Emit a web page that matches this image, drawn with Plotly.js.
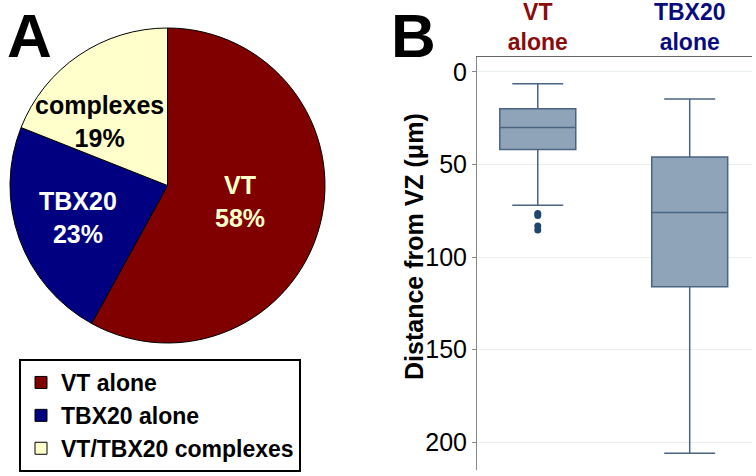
<!DOCTYPE html>
<html>
<head>
<meta charset="utf-8">
<script src="https://cdn.plot.ly/plotly-3.0.1.min.js"></script>
<style>html,body{margin:0;padding:0;background:#fff;}#chart{width:756px;height:476px;}</style>
</head>
<body>
<div id="chart"></div>
<script>
// ---- Data ----
const pieLabels = ['VT alone', 'TBX20 alone', 'VT/TBX20 complexes'];
const pieShort = ['VT', 'TBX20', 'complexes'];
const pieValues = [58, 23, 19];

const boxCategories = ['VT alone', 'TBX20 alone'];
const boxTickText = ['VT<br>alone', 'TBX20<br>alone'];
const boxLowerFence = [6.5, 14.7];
const boxQ1 = [20, 46];
const boxMedian = [30, 76];
const boxQ3 = [42, 116];
const boxUpperFence = [72, 206];
const vtOutliers = [76.5, 77.6, 83.2, 85.4];
const yTicks = [0, 50, 100, 150, 200];

// ---- Styles ----
const FONT = 'Liberation Sans, Arial, sans-serif';
const W = 756, H = 476;
const pieColors = ['#800000', '#000080', '#FFFFCC'];
const pieTextColors = ['#FFFFCC', '#FFFFFF', '#000000'];
const pieTextPos = [[240, 201], [78, 218], [99, 121]];
const catColors = ['#8B0A0A', '#0A0A80'];
const px = (x) => x / W, py = (y) => 1 - y / H;

const pieTrace = {
  type: 'pie',
  labels: pieLabels,
  values: pieValues,
  sort: false,
  direction: 'clockwise',
  rotation: 0,
  marker: {colors: pieColors, line: {color: '#000', width: 1}},
  textinfo: 'none',
  hoverinfo: 'label+percent',
  domain: {x: [px(7), px(328)], y: [py(343), py(28)]},
  showlegend: true
};

const boxTrace = {
  type: 'box',
  x: boxCategories,
  q1: boxQ1,
  median: boxMedian,
  q3: boxQ3,
  lowerfence: boxLowerFence,
  upperfence: boxUpperFence,
  width: 0.5,
  whiskerwidth: 0.67,
  boxpoints: false,
  fillcolor: 'rgb(143,164,185)',
  line: {color: 'rgb(74,100,130)', width: 1.5},
  xaxis: 'x2', yaxis: 'y2',
  showlegend: false
};

const outlierTrace = {
  type: 'scatter',
  mode: 'markers',
  x: vtOutliers.map(() => boxCategories[0]),
  y: vtOutliers,
  marker: {color: 'rgb(30,70,110)', size: 7},
  xaxis: 'x2', yaxis: 'y2',
  showlegend: false
};

const annotations = [
  {text: 'A', x: px(6), y: 1, xref: 'paper', yref: 'paper', xanchor: 'left', yanchor: 'top', showarrow: false, borderpad: 0,
   font: {family: FONT, size: 62, color: '#000', weight: 'bold'}},
  {text: 'B', x: px(390), y: 1, xref: 'paper', yref: 'paper', xanchor: 'left', yanchor: 'top', showarrow: false, borderpad: 0,
   font: {family: FONT, size: 62, color: '#000', weight: 'bold'}},
  {text: 'Distance from VZ (μm)', x: px(414), y: py(247), xref: 'paper', yref: 'paper', xanchor: 'center', yanchor: 'middle',
   textangle: -90, showarrow: false, font: {family: FONT, size: 25, color: '#000', weight: 'bold'}}
];
pieShort.forEach((s, i) => {
  annotations.push({
    text: s + '<br>' + pieValues[i] + '%',
    x: px(pieTextPos[i][0]), y: py(pieTextPos[i][1]), xref: 'paper', yref: 'paper',
    xanchor: 'center', yanchor: 'middle', showarrow: false,
    font: {family: FONT, size: 25, color: pieTextColors[i], weight: 'bold'}
  });
});

const layout = {
  width: W, height: H,
  margin: {l: 0, r: 0, t: 0, b: 0, autoexpand: false},
  paper_bgcolor: '#fff',
  plot_bgcolor: '#fff',
  font: {family: FONT, color: '#000'},
  showlegend: true,
  legend: {
    x: px(19), y: py(472), xanchor: 'left', yanchor: 'bottom',
    bordercolor: '#000', borderwidth: 2, bgcolor: '#fff',
    font: {family: FONT, size: 23, color: '#000', weight: 'bold'},
    itemwidth: 30, tracegroupgap: 0
  },
  xaxis2: {
    domain: [px(477), px(752)],
    anchor: 'y2',
    type: 'category',
    categoryorder: 'array', categoryarray: boxCategories,
    range: [-0.4, 1.41],
    side: 'top',
    tickvals: boxCategories,
    ticktext: boxTickText.map((t, i) => '<span style="color:' + catColors[i] + '">' + t + '</span>'),
    tickfont: {family: FONT, size: 23, weight: 'bold'},
    ticks: '',
    ticklabelstandoff: -4,
    showline: true, linecolor: '#666', linewidth: 1.5,
    showgrid: false, zeroline: false, fixedrange: true
  },
  yaxis2: {
    domain: [py(470), py(57)],
    anchor: 'x2',
    range: [215, -8],
    tickvals: yTicks,
    ticktext: yTicks.map(String),
    tickfont: {family: FONT, size: 25, color: '#000'},
    ticks: 'outside', ticklen: 4, tickcolor: '#888',
    showline: true, linecolor: '#888', linewidth: 1,
    showgrid: true, gridcolor: '#e9eef1', gridwidth: 1,
    zeroline: false, fixedrange: true
  },
  annotations: annotations
};

Plotly.newPlot('chart', [pieTrace, boxTrace, outlierTrace], layout, {displayModeBar: false, staticPlot: true});
</script>
</body>
</html>
